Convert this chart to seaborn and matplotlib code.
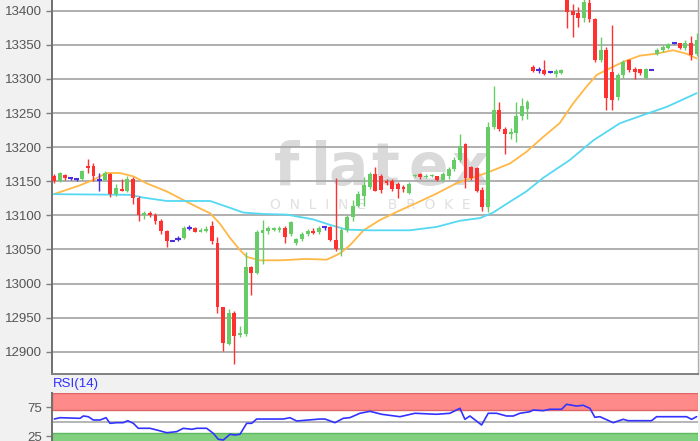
import matplotlib
matplotlib.use("Agg")
import matplotlib.pyplot as plt
import seaborn as sns
import numpy as np
import pandas as pd

# ---------------- data ----------------
opens = [13157, 13150, 13159, 13154, 13153, 13153, 13172, 13173, 13152, 13152,
         13161, 13131, 13139, 13135, 13153, 13126, 13101, 13104, 13101, 13092,
         13077, 13063, 13065, 13066, 13082, 13081, 13076, 13077, 13085, 13060,
         12965, 12912, 12957, 12924, 12926, 13024, 13015, 13074, 13077, 13079,
         13078, 13081, 13072, 13059, 13065, 13072, 13077, 13075, 13083, 13083,
         13064, 13051, 13078, 13097, 13114, 13129, 13142, 13160, 13158, 13151,
         13151, 13146, 13142, 13132, 13157, 13160, 13156, 13157, 13157, 13152,
         13158, 13168, 13181, 13205, 13171, 13169, 13137, 13112, 13229, 13255,
         13226, 13219, 13221, 13246, 13256, 13318, 13313, 13313, 13310, 13307,
         13309, 13425, 13399, 13397, 13389, 13412, 13388, 13328, 13342, 13310,
         13273, 13305, 13327, 13315, 13314, 13302, 13313, 13337, 13342, 13346,
         13352, 13352, 13345, 13352, 13337]
highs = [13161, 13164, 13161, 13156, 13154, 13167, 13182, 13176, 13162, 13165,
         13162, 13146, 13153, 13157, 13156, 13128, 13107, 13106, 13103, 13094,
         13079, 13064, 13070, 13085, 13086, 13083, 13082, 13085, 13092, 13068,
         12966, 12962, 12960, 12938, 13046, 13025, 13079, 13093, 13085, 13083,
         13084, 13085, 13091, 13067, 13075, 13080, 13081, 13085, 13084, 13085,
         13155, 13082, 13100, 13122, 13136, 13156, 13163, 13171, 13160, 13153,
         13153, 13149, 13144, 13149, 13161, 13162, 13160, 13160, 13158, 13163,
         13171, 13186, 13219, 13206, 13173, 13171, 13142, 13237, 13289, 13266,
         13229, 13228, 13266, 13272, 13269, 13320, 13318, 13328, 13311, 13315,
         13315, 13430, 13410, 13406, 13418, 13420, 13389, 13361, 13347, 13379,
         13308, 13327, 13329, 13318, 13315, 13316, 13313, 13345, 13350, 13352,
         13353, 13353, 13357, 13363, 13367]
lows = [13148, 13149, 13152, 13152, 13150, 13152, 13162, 13150, 13136, 13150,
        13127, 13129, 13135, 13134, 13117, 13092, 13095, 13097, 13087, 13072,
        13054, 13062, 13063, 13065, 13078, 13075, 13075, 13076, 13058, 12957,
        12901, 12910, 12882, 12921, 12923, 12983, 13014, 13028, 13072, 13077,
        13076, 13059, 13070, 13057, 13063, 13070, 13073, 13073, 13078, 13063,
        13048, 13041, 13076, 13092, 13112, 13114, 13138, 13135, 13133, 13144,
        13135, 13126, 13134, 13131, 13156, 13153, 13155, 13156, 13151, 13149,
        13153, 13165, 13178, 13140, 13152, 13134, 13107, 13105, 13227, 13224,
        13190, 13212, 13208, 13240, 13241, 13310, 13308, 13305, 13309, 13303,
        13307, 13374, 13362, 13376, 13384, 13384, 13325, 13325, 13254, 13254,
        13269, 13302, 13310, 13300, 13305, 13300, 13313, 13335, 13339, 13344,
        13351, 13344, 13342, 13328, 13334]
closes = [13150, 13162, 13155, 13154, 13153, 13165, 13169, 13157, 13152, 13162,
          13131, 13140, 13136, 13153, 13125, 13100, 13104, 13101, 13091, 13077,
          13063, 13063, 13065, 13082, 13082, 13076, 13079, 13080, 13063, 12965,
          12913, 12957, 12923, 12928, 13024, 13015, 13075, 13078, 13081, 13081,
          13081, 13068, 13090, 13065, 13073, 13077, 13074, 13082, 13083, 13064,
          13051, 13078, 13098, 13114, 13131, 13144, 13161, 13136, 13137, 13147,
          13139, 13139, 13139, 13146, 13159, 13156, 13158, 13159, 13152, 13161,
          13168, 13181, 13202, 13155, 13155, 13136, 13112, 13229, 13255, 13226,
          13219, 13222, 13246, 13261, 13266, 13312, 13313, 13307, 13310, 13311,
          13313, 13398, 13393, 13389, 13413, 13388, 13328, 13342, 13272, 13269,
          13305, 13325, 13313, 13310, 13308, 13314, 13313, 13343, 13347, 13351,
          13352, 13345, 13352, 13335, 13357]

# moving averages (candle index, value)
ma_fast_x = [0, 4.6, 7, 9.3, 11.7, 14.1, 16.4, 20, 23.5, 25.9, 27.7, 29.4, 31.2, 33,
             34.2, 36.5, 40.1, 44.8, 48.4, 50.7, 52.5, 54.9, 57.8, 60.8, 64.3, 67.9,
             71.4, 76.7, 80.9, 83.8, 86.8, 89.7, 92.1, 94.5, 96.3, 98, 101, 103.9,
             106.9, 109.8, 112.2, 114]
ma_fast_v = [13131, 13144, 13152, 13162, 13162, 13157, 13147, 13135, 13120, 13110,
             13103, 13088, 13067, 13049, 13039, 13034, 13034, 13036, 13035, 13044,
             13056, 13078, 13093, 13105, 13118, 13132, 13147, 13162, 13176, 13193,
             13215, 13235, 13264, 13289, 13306, 13313, 13325, 13334, 13337, 13342,
             13337, 13330]
ma_slow_x = [0, 13.5, 15.8, 20, 27.7, 31.2, 33.6, 37.1, 41.3, 46, 48.95, 51.9, 56,
             63.1, 67.9, 72, 75.6, 77.9, 80.9, 83.8, 86.8, 91.5, 95.7, 100.4, 104.5,
             108.7, 114]
ma_slow_v = [13131, 13130, 13126, 13121, 13121, 13111, 13104, 13102, 13101, 13094,
             13086, 13079, 13078, 13078, 13083, 13092, 13096, 13104, 13120, 13135,
             13155, 13181, 13210, 13235, 13247, 13259, 13279]

rsi_x = [0.05, 1.06, 4.61, 5.2, 6.08, 6.97, 8.16, 9.22, 9.93, 11.12, 12.29, 13.07,
         14.07, 14.95, 17.03, 18.22, 19.99, 21.76, 22.93, 24.42, 25.31, 27.08, 28.25,
         29.14, 30.03, 31.22, 32.1, 32.99, 34.18, 35.07, 35.95, 40.67, 41.86, 43.05,
         47.18, 48.07, 49.84, 51.31, 52.5, 54.27, 56.05, 58.12, 61.37, 64.03, 67.88,
         70.24, 72.01, 72.9, 73.79, 75.86, 77.03, 78.52, 80.29, 81.47, 82.65, 84.43,
         85.01, 86.79, 87.97, 90.05, 90.93, 92.71, 93.88, 95.07, 95.95, 96.84, 99.2,
         100.98, 101.86, 106.01, 106.9, 112.22, 113.11, 114]
rsi_v = [54.6, 56.9, 55.8, 59.8, 58.6, 52.9, 52.9, 56.9, 47.2, 48.3, 48.3, 51.7,
         47.2, 38.6, 38.6, 35.7, 31.0, 32.8, 38.6, 36.9, 38.6, 38.6, 30.0,
         19.7, 18.4, 28.3, 27.0, 28.3, 47.2, 47.2, 54.6, 54.6, 56.9, 51.2,
         54.6, 54.6, 48.3, 55.8, 57.0, 64.5, 67.9, 62.8, 58.6, 64.5, 62.8,
         64.5, 73.1, 54.1, 59.8, 44.3, 64.5, 64.5, 59.8, 59.8, 64.5, 67.2,
         70.2, 69.0, 71.4, 71.4, 80.0, 77.0, 78.3, 73.1, 57.6, 58.6, 48.3,
         54.1, 51.7, 51.7, 58.6, 58.6, 54.1, 58.6]

price_ticks = [12900, 12950, 13000, 13050, 13100, 13150, 13200, 13250, 13300, 13350, 13400]
rsi_ticks = [25, 75]

# ---------------- style ----------------
sns.set_style("white")
plt.rcParams['font.family'] = ['Liberation Sans', 'DejaVu Sans']

RED = '#ff3030'
GREEN = '#66cc66'
BLUE = '#4a2ee0'
W, H = 700, 441

fig = plt.figure(figsize=(7, 4.41), dpi=100, facecolor='#f1f1f1')
ax = fig.add_axes([52 / W, (H - 374) / H, (698 - 52) / W, 374 / H])
ax2 = fig.add_axes([52 / W, 0, (698 - 52) / W, (H - 392.7) / H])

df = pd.DataFrame({'o': opens, 'h': highs, 'l': lows, 'c': closes})
df['i'] = np.arange(len(df))
cols = np.where(df.c > df.o, GREEN, np.where(df.c < df.o, RED, BLUE))
df['col'] = cols

# watermark (letter spaced logo)
logo_letters = ['f', 'l', 'a', 't', 'e', 'x']
logo_px = [287, 320, 348, 385, 428, 470]
for ch, px in zip(logo_letters, logo_px):
    ax.text((px - 52) / 646, (374 - 185) / 374, ch, transform=ax.transAxes,
            ha='center', va='baseline', fontsize=42, color='#dadada',
            family='DejaVu Sans', fontweight='bold', zorder=0)
ax.text((380 - 52) / 646, (374 - 205) / 374, 'O  N  L  I  N  E     B  R  O  K  E  R',
        transform=ax.transAxes, ha='center', va='center', fontsize=10,
        color='#e0e0e0', family='DejaVu Sans', zorder=0)

# moving averages
sns.lineplot(x=ma_fast_x, y=ma_fast_v, ax=ax, color='#ffb845', lw=1.3,
             estimator=None, sort=False, zorder=2)
sns.lineplot(x=ma_slow_x, y=ma_slow_v, ax=ax, color='#55d8f2', lw=1.3,
             estimator=None, sort=False, zorder=2)

# candles
ax.vlines(df.i, df.l, df.h, colors=df.col, lw=1.0, zorder=3)
body_lo = np.minimum(df.o, df.c)
body_h = np.abs(df.c - df.o)
ax.bar(df.i, body_h, bottom=body_lo, width=0.68, color=df.col, lw=0, zorder=4)
doji = df[df.o == df.c]
ax.hlines(doji.o, doji.i - 0.45, doji.i + 0.45, colors=BLUE, lw=1.5, zorder=4)

ax.set_xlim(-0.36, 114.25)
ax.set_ylim(12867.3, 13415.7)
ax.set_yticks(price_ticks)
ax.set_yticklabels([str(t) for t in price_ticks])
ax.set_xticks([])
ax.set_facecolor('white')
ax.grid(False)
for t in price_ticks:
    ax.axhline(t, color='#a9a9a9', lw=1.3, zorder=1)
ax.tick_params(axis='y', length=4, width=1, color='#808080', pad=3.5,
               labelsize=9.5, labelcolor='#555555', left=True)
ax.spines['top'].set_visible(False)
ax.spines['left'].set_color('#707070')
ax.spines['left'].set_linewidth(1.4)
ax.spines['bottom'].set_color('#808080')
ax.spines['bottom'].set_linewidth(1.4)
ax.spines['right'].set_color('#b0b0b0')
ax.spines['right'].set_linewidth(1.0)

# RSI panel
ax2.set_facecolor('white')
ax2.axhspan(70, 100, facecolor='#ff8a8a', edgecolor='#e06666', lw=1.0, zorder=1)
ax2.axhspan(0, 30, facecolor='#80d080', edgecolor='#5fb85f', lw=1.0, zorder=1)
ax2.axhline(50, color='#b0b0b0', lw=1.3, zorder=1)
sns.lineplot(x=rsi_x, y=rsi_v, ax=ax2, color='#3333ff', lw=1.2,
             estimator=None, sort=False, zorder=3)
ax2.set_xlim(-0.36, 114.25)
ax2.set_ylim(16.7, 100)
ax2.set_yticks(rsi_ticks)
ax2.set_yticklabels([str(t) for t in rsi_ticks])
ax2.set_xticks([])
ax2.grid(False)
ax2.tick_params(axis='y', length=4, width=1, color='#808080', pad=3.5,
                labelsize=9.5, labelcolor='#555555', left=True)
for s in ['top', 'right', 'bottom']:
    ax2.spines[s].set_visible(False)
ax2.spines['left'].set_color('#707070')
ax2.spines['left'].set_linewidth(1.4)

fig.text(53 / W, (H - 384.5) / H, 'RSI(14)', color='#3030ff', fontsize=9.5,
         ha='left', va='center')

fig.savefig('out.png', dpi=100, facecolor=fig.get_facecolor())
